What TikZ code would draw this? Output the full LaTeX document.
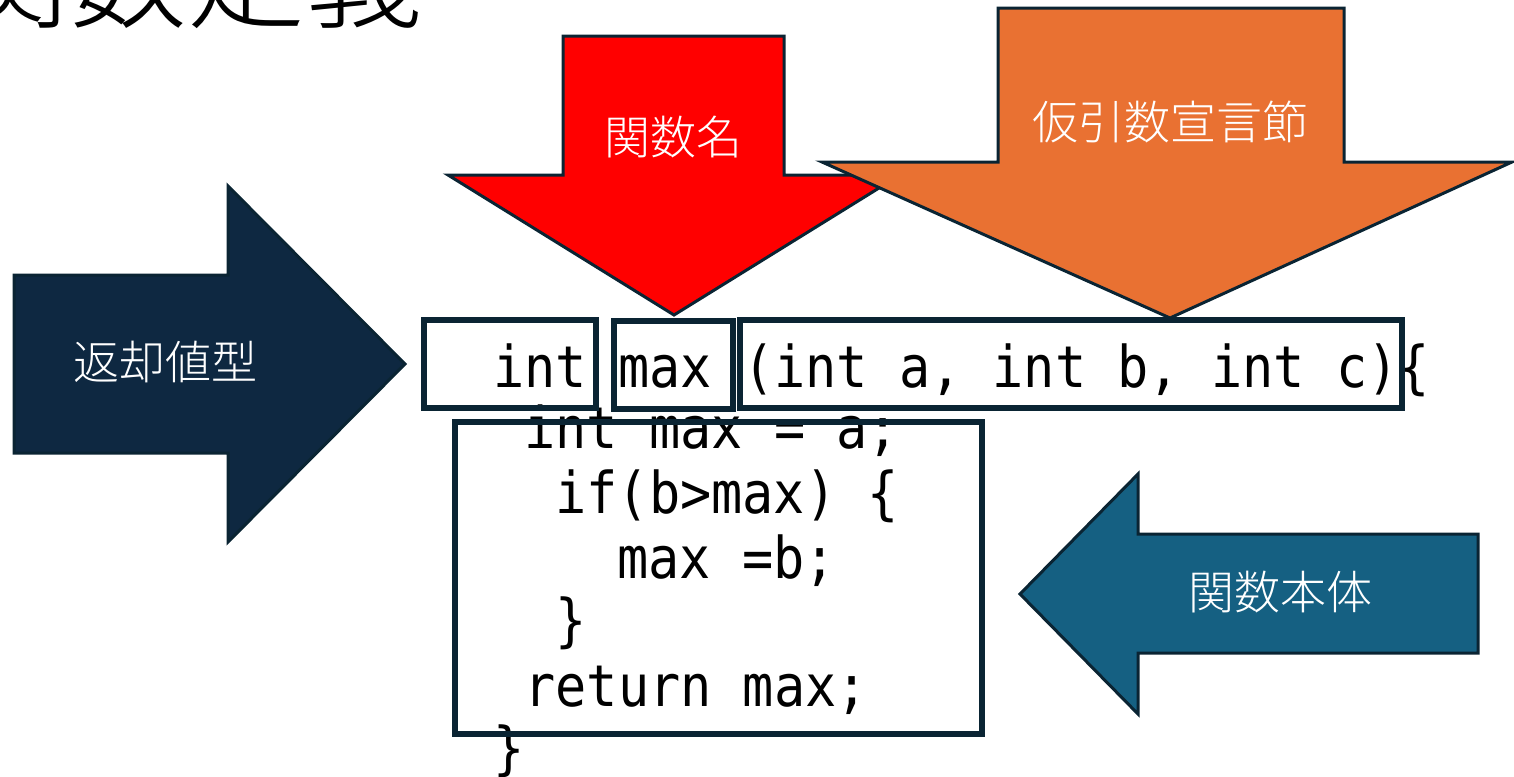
\documentclass[tikz,border=0pt]{standalone}
\usepackage{fontspec}
\newfontfamily\cjk{Noto Sans CJK JP Light}
\newfontfamily\codefont[FakeStretch=0.9]{DejaVu Sans Mono}
\definecolor{navy}{HTML}{0E2841}
\definecolor{edge}{HTML}{0A2433}
\definecolor{teal}{HTML}{156082}
\definecolor{orng}{HTML}{E97132}
\definecolor{redf}{HTML}{FF0000}
\tikzset{
  arrowshape/.style={draw=edge, line width=1.5pt, line join=miter},
  lbl/.style={text=white, font=\cjk\fontsize{23pt}{27pt}\selectfont, inner sep=0pt},
  codeline/.style={anchor=base west, inner sep=0pt, font=\codefont\fontsize{28.8pt}{34pt}\selectfont},
  codebox/.style={draw=edge, line width=2.8pt},
}
\begin{document}
\begin{tikzpicture}[x=0.5pt, y=-0.5pt]
\useasboundingbox (0,0) rectangle (1514,776);
% title (cut off at top)
\node[anchor=base west, inner sep=0pt, font=\cjk\fontsize{59pt}{70pt}\selectfont] (title) at (-49,19) {関数定義};
% red arrow
\filldraw[arrowshape, fill=redf] (563,36) -- (784,36) -- (784,175) -- (900,175) -- (674,315) -- (448,175) -- (563,175) -- cycle;
\node[lbl] (fname) at (673,137) {関数名};
% orange arrow
\filldraw[arrowshape, fill=orng] (998,8) -- (1344,8) -- (1344,162) -- (1512,162) -- (1170,318) -- (822,162) -- (998,162) -- cycle;
\node[lbl] (params) at (1170,122) {仮引数宣言節};
% navy arrow
\filldraw[arrowshape, fill=navy] (14,275) -- (228,275) -- (228,186) -- (405,364) -- (228,542) -- (228,453) -- (14,453) -- cycle;
\node[lbl] (rettype) at (165,362) {返却値型};
% teal arrow
\filldraw[arrowshape, fill=teal] (1478,534) -- (1138,534) -- (1138,474) -- (1020,594) -- (1138,714) -- (1138,653) -- (1478,653) -- cycle;
\node[lbl] (body) at (1280,592) {関数本体};
% code
\node[codeline] (c1) at (493,387) {int max (int a, int b, int c)\{};
\node[codeline] (c2) at (524,448) {int max = a;};
\node[codeline] (c3) at (555,513) {if(b>max) \{};
\node[codeline] (c4) at (617,578) {max =b;};
\node[codeline] (c5) at (555,640) {\}};
\node[codeline] (c6) at (524,706) {return max;};
\node[codeline] (c7) at (493,768) {\}};
% boxes
\draw[codebox] (424,320) rectangle (596,408);
\draw[codebox] (614,321) rectangle (733,409);
\draw[codebox] (740,320) rectangle (1402,408);
\draw[codebox] (455,422) rectangle (982,734);
\end{tikzpicture}
\end{document}
